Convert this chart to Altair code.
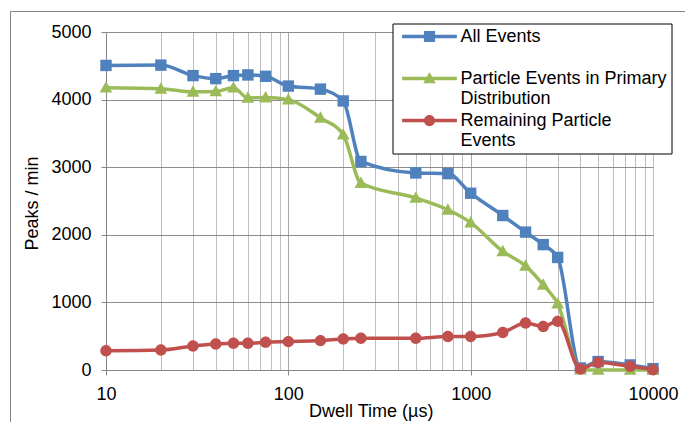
import json
import altair as alt
import pandas as pd

# ---- data ----
dwell_time = [10, 20, 30, 40, 50, 60, 75, 100, 150, 200, 250, 500, 750, 1000,
              1500, 2000, 2500, 3000, 4000, 5000, 7500, 10000]
all_events = [4505, 4510, 4355, 4310, 4355, 4365, 4345, 4200, 4155, 3980, 3085,
              2915, 2905, 2615, 2285, 2040, 1855, 1665, 30, 125, 75, 20]
primary_events = [4175, 4160, 4115, 4120, 4175, 4025, 4030, 4000, 3730, 3480, 2765,
                  2545, 2370, 2180, 1755, 1540, 1260, 980, 5, 0, 0, 0]
remaining_events = [285, 295, 355, 385, 395, 395, 410, 420, 435, 460, 470,
                    470, 495, 495, 555, 695, 645, 720, 15, 112, 55, 5]

series_names = ["All Events", "Particle Events in Primary Distribution",
                "Remaining Particle Events"]
series_values = [all_events, primary_events, remaining_events]
series_colors = ["#4F81BD", "#9BBB59", "#C0504D"]
legend_lines = {
    "All Events": ["All Events"],
    "Particle Events in Primary Distribution": ["Particle Events in Primary", "Distribution"],
    "Remaining Particle Events": ["Remaining Particle", "Events"],
}

y_ticks = [0, 1000, 2000, 3000, 4000, 5000]
x_major = [10, 100, 1000, 10000]
x_grid = [m * d for d in [10, 100, 1000] for m in range(1, 10)] + [10000]

# ---- marker shapes (unit paths) ----
square = "M-1,-1L1,-1L1,1L-1,1Z"
triangle = "M0,-1.15L1.12,0.85L-1.12,0.85Z"
circle = "M-1,0A1,1,0,1,1,1,0A1,1,0,1,1,-1,0Z"
markers = [square, triangle, circle]
bar = "M-4.9,-0.33L4.9,-0.33L4.9,0.33L-4.9,0.33Z"
legend_shapes = [bar + m for m in markers]

rows = []
for name, vals in zip(series_names, series_values):
    for x, v in zip(dwell_time, vals):
        rows.append({"series": name, "dwell": x, "peaks": v})
df = pd.DataFrame(rows)

FONT = "Liberation Sans"
AX = "#868686"

x_enc = alt.X(
    "dwell:Q",
    scale=alt.Scale(type="log", domain=[10, 10000], nice=False),
    axis=alt.Axis(
        values=x_grid,
        format="d",
        labelExpr="indexof(%s, datum.value) >= 0 ? datum.label : ''" % json.dumps(x_major),
        labelOverlap=False,
        labelFlush=False,
        labelFontSize=18,
        labelColor="black",
        labelPadding=10,
        tickSize=5,
        tickColor={"condition": {"test": "indexof(%s, datum.value) >= 0" % json.dumps(x_major),
                                 "value": AX}, "value": "transparent"},
        grid=True,
        gridColor={"condition": {"test": "indexof(%s, datum.value) >= 0" % json.dumps(x_major[1:3]),
                                 "value": "#a8a8a8"}, "value": "#bfbfbf"},
        domainColor=AX,
        title="Dwell Time (\u00b5s)",
        titleFontSize=18,
        titleFontWeight="normal",
        titleColor="black",
        titleX=264.7,
        titleY=46,
        titleAlign="center",
        titleBaseline="alphabetic",
    ),
)
y_enc = alt.Y(
    "peaks:Q",
    scale=alt.Scale(domain=[0, 5000], nice=False),
    axis=alt.Axis(
        values=y_ticks,
        format="d",
        labelFontSize=18,
        labelColor="black",
        labelPadding=10,
        tickSize=5,
        tickColor=AX,
        grid=True,
        gridColor="#8c8c8c",
        domainColor=AX,
        title="Peaks / min",
        titleFontSize=18,
        titleFontWeight="normal",
        titleColor="black",
        titleAngle=270,
        titleX=-68.3,
        titleY=171,
        titleAlign="center",
        titleBaseline="alphabetic",
    ),
)

layers = []
for name, col, mk in zip(series_names, series_colors, markers):
    sub = df[df["series"] == name]
    base = alt.Chart(sub)
    layers.append(base.mark_line(interpolate="monotone", strokeWidth=3.5, color=col)
                  .encode(x=x_enc, y=y_enc))
    layers.append(base.mark_point(shape=mk, filled=True, size=130, opacity=1, color=col)
                  .encode(x=x_enc, y=y_enc))

legend = alt.Legend(
    title=None,
    orient="none",
    legendX=286.5,
    legendY=-8.5,
    direction="vertical",
    columns=1,
    fillColor="white",
    strokeColor="black",
    padding=4,
    symbolSize=125,
    symbolOffset=24,
    symbolOpacity=1,
    symbolStrokeWidth=0,
    labelOffset=22,
    labelFontSize=18,
    labelColor="black",
    labelFont=FONT,
    labelLimit=500,
    labelBaseline="middle",
    labelExpr="%s[datum.label]" % json.dumps(legend_lines),
    gridAlign="all",
    rowPadding=4,
)
legend_layer = alt.Chart(df).mark_point(filled=True, opacity=0, size=125).encode(
    x=x_enc,
    y=y_enc,
    color=alt.Color("series:N", scale=alt.Scale(domain=series_names, range=series_colors),
                    legend=legend),
    shape=alt.Shape("series:N", scale=alt.Scale(domain=series_names, range=legend_shapes),
                    legend=legend),
)

frame_df = pd.DataFrame({"k": [0]})
frame_top = alt.Chart(frame_df).mark_rule(color=AX, strokeWidth=1).encode(
    x=alt.value(-95.5), x2=alt.value(600), y=alt.value(-20.5))
frame_left = alt.Chart(frame_df).mark_rule(color=AX, strokeWidth=1).encode(
    x=alt.value(-95.5), y=alt.value(-20.5), y2=alt.value(420))

chart = alt.layer(frame_top, frame_left, *layers, legend_layer).properties(
    width=547,
    height=338,
    padding={"left": 98, "top": 24, "right": 32, "bottom": 52},
    autosize=alt.AutoSizeParams(type="none"),
).configure_view(stroke=None).configure(font=FONT, background="white")

chart.save("out.html", embed_options={"renderer": "svg", "actions": False})
